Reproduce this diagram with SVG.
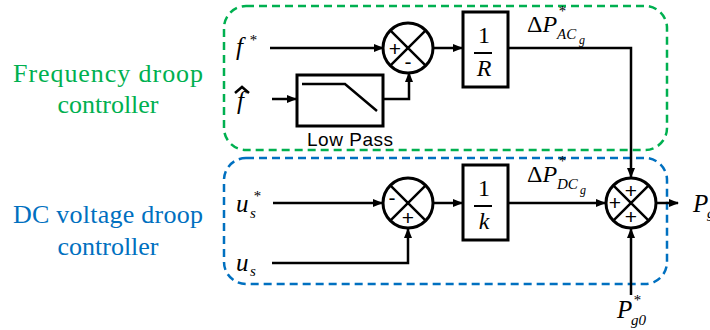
<svg xmlns="http://www.w3.org/2000/svg" width="710" height="330" viewBox="0 0 710 330">
<style>
.ln{stroke:#000;stroke-width:2.5;fill:none}
.bx{stroke:#000;stroke-width:3;fill:#fff}
.m{font-family:"Liberation Serif",serif;font-style:italic;fill:#000}
.sg{font-family:"Liberation Sans",sans-serif;font-size:21px;fill:#000;text-anchor:middle}
.lbl{font-family:"Liberation Serif",serif;font-size:26px;text-anchor:middle}
</style>
<defs>
<marker id="ar" markerWidth="10" markerHeight="10" refX="9" refY="5" orient="auto" markerUnits="userSpaceOnUse">
<path d="M0,1 L10,5 L0,9 Z" fill="#000"/>
</marker>
</defs>
<g id="freq-group">
<rect x="224" y="6" width="443" height="144" rx="22" fill="none" stroke="#00B050" stroke-width="2.5" stroke-dasharray="8,5"/>
<text class="lbl" font-family="Liberation Serif, serif" x="108" y="82" fill="#00B050" textLength="190">Frequency droop</text>
<text class="lbl" font-family="Liberation Serif, serif" x="108" y="113" fill="#00B050">controller</text>
</g>
<g id="dc-group">
<rect x="224" y="158" width="443" height="126" rx="22" fill="none" stroke="#0070C0" stroke-width="2.5" stroke-dasharray="8,5"/>
<text class="lbl" font-family="Liberation Serif, serif" x="108" y="223" fill="#0070C0" textLength="190">DC voltage droop</text>
<text class="lbl" font-family="Liberation Serif, serif" x="108" y="255" fill="#0070C0">controller</text>
</g>
<g id="connectors">
<line class="ln" x1="270" y1="48" x2="383" y2="48" marker-end="url(#ar)"/>
<line class="ln" x1="272" y1="99" x2="296" y2="99" marker-end="url(#ar)"/>
<polyline class="ln" points="383,99 409,99 409,73" marker-end="url(#ar)"/>
<line class="ln" x1="433" y1="48" x2="462" y2="48" marker-end="url(#ar)"/>
<polyline class="ln" points="508,48 631,48 631,177" marker-end="url(#ar)"/>
<line class="ln" x1="273" y1="203" x2="382" y2="203" marker-end="url(#ar)"/>
<polyline class="ln" points="272,263 408,263 408,229" marker-end="url(#ar)"/>
<line class="ln" x1="433" y1="203" x2="462" y2="203" marker-end="url(#ar)"/>
<line class="ln" x1="508" y1="203" x2="605" y2="203" marker-end="url(#ar)"/>
<line class="ln" x1="656" y1="203" x2="678" y2="203" marker-end="url(#ar)"/>
<line class="ln" x1="631" y1="295" x2="631" y2="229" marker-end="url(#ar)"/>
</g>
<g id="input-f">
<text class="m" x="236" y="55" font-size="25">f</text>
<text class="m" x="249" y="45" font-size="15">*</text>
</g>
<g id="input-fhat">
<text class="m" x="237" y="109" font-size="25">f</text>
<path d="M235,93 L242,87 L249,93" class="ln" stroke-width="1.2"/>
</g>
<g id="lowpass">
<rect class="bx" x="297" y="75" width="86" height="51"/>
<polyline class="ln" points="302,84 345,84 377,111" stroke-width="3"/>
<text x="350" y="146" font-family="Liberation Sans, sans-serif" font-size="19" text-anchor="middle" textLength="86">Low Pass</text>
</g>
<g id="sum1">
<circle cx="408" cy="48" r="25" class="bx"/>
<path d="M390.3,30.3 L425.7,65.7 M425.7,30.3 L390.3,65.7" class="ln"/>
<text class="sg" x="395" y="56">+</text>
<text class="sg" x="408" y="69">-</text>
</g>
<g id="gainR">
<rect class="bx" x="463" y="12" width="45" height="75"/>
<text x="484" y="43" font-family="Liberation Serif, serif" font-size="24" text-anchor="middle">1</text>
<line x1="474" y1="53" x2="492" y2="53" stroke="#000" stroke-width="2"/>
<text class="m" x="484" y="76" font-size="24" text-anchor="middle">R</text>
</g>
<g id="label-ac">
<text x="527" y="32" font-family="Liberation Serif, serif" font-size="24">Δ<tspan font-style="italic">P</tspan></text>
<text class="m" x="558" y="16" font-size="15">*</text>
<text class="m" x="557" y="39" font-size="15">AC</text>
<text class="m" x="579" y="44" font-size="12">g</text>
</g>
<g id="input-us-star">
<text class="m" x="236" y="212" font-size="25">u</text>
<text class="m" x="250" y="218" font-size="15">s</text>
<text class="m" x="253" y="201" font-size="15">*</text>
</g>
<g id="input-us">
<text class="m" x="236" y="271" font-size="25">u</text>
<text class="m" x="250" y="276" font-size="15">s</text>
</g>
<g id="sum2">
<circle cx="408" cy="203" r="25" class="bx"/>
<path d="M390.3,185.3 L425.7,220.7 M425.7,185.3 L390.3,220.7" class="ln"/>
<text class="sg" x="392" y="205">-</text>
<text class="sg" x="408" y="225">+</text>
</g>
<g id="gainK">
<rect class="bx" x="463" y="165" width="45" height="75"/>
<text x="484" y="196" font-family="Liberation Serif, serif" font-size="24" text-anchor="middle">1</text>
<line x1="474" y1="206" x2="492" y2="206" stroke="#000" stroke-width="2"/>
<text class="m" x="484" y="229" font-size="24" text-anchor="middle">k</text>
</g>
<g id="label-dc">
<text x="527" y="182" font-family="Liberation Serif, serif" font-size="24">Δ<tspan font-style="italic">P</tspan></text>
<text class="m" x="558" y="166" font-size="15">*</text>
<text class="m" x="557" y="189" font-size="15">DC</text>
<text class="m" x="580" y="194" font-size="12">g</text>
</g>
<g id="sum3">
<circle cx="631" cy="203" r="25" class="bx"/>
<path d="M613.3,185.3 L648.7,220.7 M648.7,185.3 L613.3,220.7" class="ln"/>
<text class="sg" x="631" y="198">+</text>
<text class="sg" x="615" y="210">+</text>
<text class="sg" x="631" y="224">+</text>
</g>
<g id="output">
<text class="m" x="693" y="212" font-size="25">P</text>
<text class="m" x="707" y="218" font-size="15">g</text>
</g>
<g id="input-pg0">
<text class="m" x="617" y="318" font-size="25">P</text>
<text class="m" x="633" y="305" font-size="15">*</text>
<text class="m" x="631" y="325" font-size="15">g0</text>
</g>
</svg>
